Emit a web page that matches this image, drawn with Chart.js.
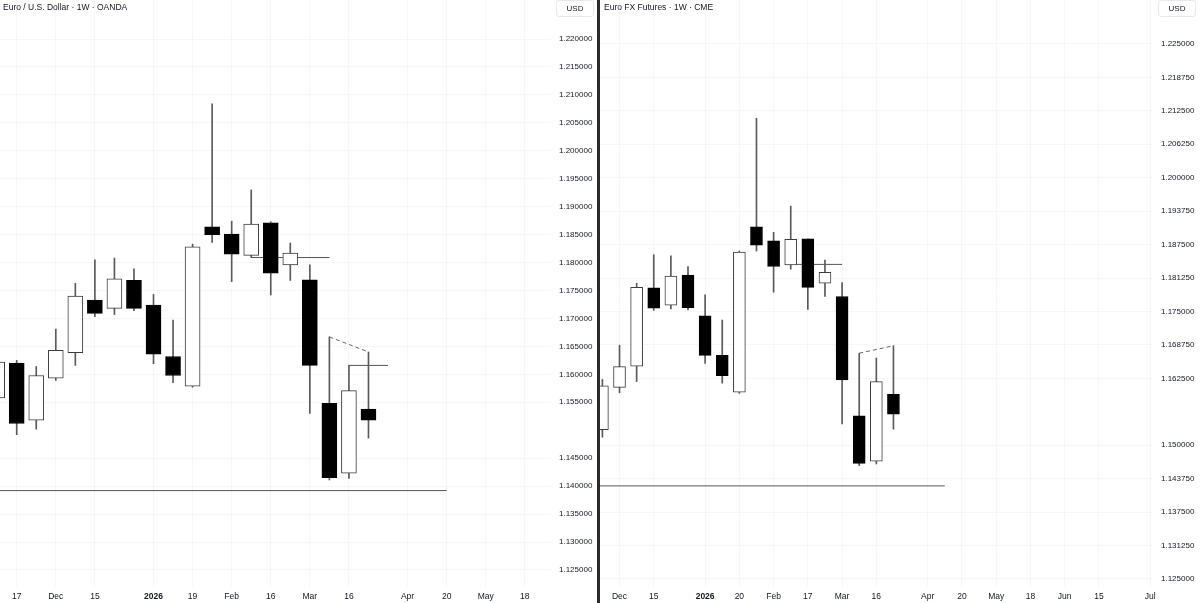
<!DOCTYPE html>
<html>
<head>
<meta charset="utf-8">
<title>EURUSD spot vs Euro FX futures, weekly</title>
<script src="https://cdn.jsdelivr.net/npm/chart.js@4.4.1/dist/chart.umd.min.js"></script>
<style>
  html, body { margin: 0; padding: 0; background: #fff; }
  #wrap { position: relative; width: 1200px; height: 603px; overflow: hidden; font-family: 'Liberation Sans', Arial, sans-serif; color: #131722; }
  canvas { position: absolute; top: 0; }
  #spotChart { left: 0; }
  #futChart { left: 600px; }
  #divider { position: absolute; left: 597px; top: 0; width: 3px; height: 603px; background: #2b2b2b; }
  .title { position: absolute; top: 1px; font-size: 8.5px; line-height: 12px; white-space: nowrap; }
  .cur { position: absolute; top: 0; width: 38px; height: 17px; border: 1px solid #e6e8ee; border-radius: 3px; font-size: 8px; line-height: 15px; text-align: center; background: #fff; box-sizing: border-box; }
</style>
</head>
<body>
<div id="wrap">
  <canvas id="spotChart" width="597" height="603"></canvas>
  <canvas id="futChart" width="600" height="603"></canvas>
  <div id="divider"></div>
  <div class="title" style="left:3px">Euro / U.S. Dollar · 1W · OANDA</div>
  <div class="title" style="left:604px">Euro FX Futures · 1W · CME</div>
  <div class="cur" style="left:556px">USD</div>
  <div class="cur" style="left:1158px">USD</div>
</div>
<script>
// EUR/USD spot (OANDA), weekly bars, week starting Monday
const spotWeeks = ['2025-11-10', '2025-11-17', '2025-11-24', '2025-12-01', '2025-12-08', '2025-12-15', '2025-12-22', '2025-12-29',
  '2026-01-05', '2026-01-12', '2026-01-19', '2026-01-26', '2026-02-02', '2026-02-09', '2026-02-16', '2026-02-23',
  '2026-03-02', '2026-03-09', '2026-03-16', '2026-03-23'];
const spotOpen  = [1.1558, 1.1620, 1.1518, 1.1593, 1.1639, 1.1733, 1.1718, 1.1768, 1.1724, 1.1632, 1.1579, 1.1864, 1.1851, 1.1813, 1.1871, 1.1796, 1.1769, 1.1548, 1.1423, 1.1538];
const spotHigh  = [1.1655, 1.1625, 1.1614, 1.1681, 1.1763, 1.1805, 1.1808, 1.1789, 1.1743, 1.1697, 1.1833, 1.2084, 1.1874, 1.1930, 1.1873, 1.1835, 1.1796, 1.1667, 1.1616, 1.1640];
const spotLow   = [1.1530, 1.1492, 1.1502, 1.1589, 1.1616, 1.1703, 1.1707, 1.1714, 1.1619, 1.1585, 1.1577, 1.1836, 1.1766, 1.1809, 1.1742, 1.1768, 1.1530, 1.1411, 1.1414, 1.1486];
const spotClose = [1.1622, 1.1512, 1.1598, 1.1643, 1.1740, 1.1709, 1.1771, 1.1718, 1.1636, 1.1598, 1.1828, 1.1850, 1.1815, 1.1869, 1.1781, 1.1817, 1.1616, 1.1415, 1.1571, 1.1518];

// Euro FX futures (CME), weekly bars
const futWeeks = ['2025-11-24', '2025-12-01', '2025-12-08', '2025-12-15', '2025-12-22', '2025-12-29', '2026-01-05', '2026-01-12',
  '2026-01-19', '2026-01-26', '2026-02-02', '2026-02-09', '2026-02-16', '2026-02-23', '2026-03-02', '2026-03-09',
  '2026-03-16', '2026-03-23'];
const futOpen  = [1.1529, 1.1608, 1.1648, 1.1794, 1.1762, 1.1818, 1.1742, 1.1668, 1.1599, 1.1908, 1.1882, 1.1837, 1.1886, 1.1803, 1.1778, 1.1555, 1.1470, 1.1595];
const futHigh  = [1.1623, 1.1687, 1.1803, 1.1856, 1.1854, 1.1834, 1.1781, 1.1734, 1.1863, 1.2111, 1.1898, 1.1947, 1.1886, 1.1846, 1.1804, 1.1672, 1.1663, 1.1686];
const futLow   = [1.1515, 1.1598, 1.1619, 1.1752, 1.1755, 1.1753, 1.1653, 1.1616, 1.1597, 1.1863, 1.1786, 1.1829, 1.1754, 1.1778, 1.1540, 1.1462, 1.1465, 1.1530];
const futClose = [1.1611, 1.1647, 1.1795, 1.1756, 1.1816, 1.1757, 1.1668, 1.1630, 1.1861, 1.1874, 1.1834, 1.1885, 1.1795, 1.1823, 1.1622, 1.1466, 1.1619, 1.1558];

// drawn levels: [from week, to week, price] and the dashed trend line [week, price]
const spotRays  = [['2026-02-09', '2026-03-09', 1.1809], ['2026-03-16', '2026-03-30', 1.1616], ['2025-11-03', '2026-04-20', 1.1392]];
const spotTrend = [['2026-03-09', 1.1667], ['2026-03-23', 1.1640]];
const futRays   = [['2026-02-09', '2026-03-02', 1.1838], ['2025-11-17', '2026-04-13', 1.1424]];
const futTrend  = [['2026-03-09', 1.1672], ['2026-03-23', 1.1686]];

// time axis labels
const spotTickWeeks = ['2025-11-17', '2025-12-01', '2025-12-15', '2026-01-05', '2026-01-19', '2026-02-02', '2026-02-16', '2026-03-02', '2026-03-16', '2026-04-06', '2026-04-20', '2026-05-04', '2026-05-18'];
const spotTickText  = ['17', 'Dec', '15', '2026', '19', 'Feb', '16', 'Mar', '16', 'Apr', '20', 'May', '18'];
const futTickWeeks  = ['2025-12-01', '2025-12-15', '2026-01-05', '2026-01-19', '2026-02-02', '2026-02-16', '2026-03-02', '2026-03-16', '2026-04-06', '2026-04-20', '2026-05-04', '2026-05-18', '2026-06-01', '2026-06-15', '2026-07-06'];
const futTickText   = ['Dec', '15', '2026', '20', 'Feb', '17', 'Mar', '16', 'Apr', '20', 'May', '18', 'Jun', '15', 'Jul'];

// price axis labels
const spotPriceTicks = [1.125, 1.13, 1.135, 1.14, 1.145, 1.155, 1.16, 1.165, 1.17, 1.175, 1.18, 1.185, 1.19, 1.195, 1.2, 1.205, 1.21, 1.215, 1.22];
const futPriceTicks  = [1.125, 1.13125, 1.1375, 1.14375, 1.15, 1.1625, 1.16875, 1.175, 1.18125, 1.1875, 1.19375, 1.2, 1.20625, 1.2125, 1.21875, 1.225];

const FONT = "'Liberation Sans', Arial, sans-serif";
const TEXT = '#131722';
const GRID = 'rgba(0,0,0,0.03)';

// weeks counted from 10 Nov 2025
function weekIdx(d) {
  return (Date.parse(d) - Date.parse('2025-11-10')) / 6048e5;
}

function buildChart(canvasId, s) {
  const xs = s.weeks.map(weekIdx);
  const up = s.open.map((o, i) => s.close[i] >= o);

  const datasets = [
    {
      type: 'bar',
      data: xs.map((x, i) => ({ x: x, y: [s.open[i], s.close[i]] })),
      grouped: false,
      barThickness: s.bodyWidth,
      backgroundColor: up.map(u => u ? '#ffffff' : '#000000'),
      borderColor: up.map(u => u ? '#3c3c3c' : '#000000'),
      borderWidth: 1,
      borderSkipped: false,
      order: 0
    },
    {
      type: 'bar',
      data: xs.map((x, i) => ({ x: x, y: [s.low[i], s.high[i]] })),
      grouped: false,
      barThickness: 1,
      backgroundColor: '#5a5a5a',
      borderWidth: 0,
      order: 1
    }
  ];

  s.rays.forEach(r => {
    datasets.push({
      type: 'line',
      data: [{ x: weekIdx(r[0]), y: r[2] }, { x: weekIdx(r[1]), y: r[2] }],
      borderColor: '#555555',
      borderWidth: 1,
      pointRadius: 0,
      order: 2
    });
  });

  datasets.push({
    type: 'line',
    data: s.trend.map(p => ({ x: weekIdx(p[0]), y: p[1] })),
    borderColor: '#666666',
    borderWidth: 1,
    borderDash: [4, 3],
    pointRadius: 0,
    order: 2
  });

  const tickX = s.tickWeeks.map(weekIdx);

  return new Chart(document.getElementById(canvasId), {
    type: 'bar',
    data: { datasets: datasets },
    options: {
      responsive: false,
      animation: false,
      layout: { padding: 0 },
      plugins: { legend: { display: false }, tooltip: { enabled: false } },
      scales: {
        x: {
          type: 'linear',
          min: s.xMin,
          max: s.xMax,
          offset: false,
          grid: { color: GRID, drawTicks: false, offset: false },
          border: { display: false },
          ticks: {
            autoSkip: false,
            maxRotation: 0,
            padding: 5,
            color: TEXT,
            font: c => ({ family: FONT, size: 8.5, weight: s.tickText[c.index] === '2026' ? 'bold' : 'normal' }),
            callback: (v, i) => s.tickText[i]
          },
          afterBuildTicks: sc => { sc.ticks = tickX.map(v => ({ value: v })); },
          afterFit: sc => { sc.height = 16; sc.paddingLeft = 0; sc.paddingRight = 0; }
        },
        y: {
          type: 'linear',
          position: 'right',
          min: s.yMin,
          max: s.yMax,
          grid: { color: GRID, drawTicks: false },
          border: { display: false },
          ticks: {
            padding: 8,
            color: TEXT,
            font: { family: FONT, size: 8 },
            callback: v => v.toFixed(6)
          },
          afterBuildTicks: sc => { sc.ticks = s.priceTicks.map(v => ({ value: v })); },
          afterFit: sc => { sc.width = s.axisWidth; sc.paddingTop = 0; sc.paddingBottom = 0; }
        }
      }
    }
  });
}

buildChart('spotChart', {
  weeks: spotWeeks, open: spotOpen, high: spotHigh, low: spotLow, close: spotClose,
  rays: spotRays, trend: spotTrend,
  tickWeeks: spotTickWeeks, tickText: spotTickText, priceTicks: spotPriceTicks,
  bodyWidth: 15, axisWidth: 46,
  xMin: 0.145, xMax: 28.34, yMin: 1.12195, yMax: 1.22698
});

buildChart('futChart', {
  weeks: futWeeks, open: futOpen, high: futHigh, low: futLow, close: futClose,
  rays: futRays, trend: futTrend,
  tickWeeks: futTickWeeks, tickText: futTickText, priceTicks: futPriceTicks,
  bodyWidth: 12, axisWidth: 47,
  xMin: 1.86, xMax: 34.16, yMin: 1.1235, yMax: 1.23322
});
</script>
</body>
</html>
